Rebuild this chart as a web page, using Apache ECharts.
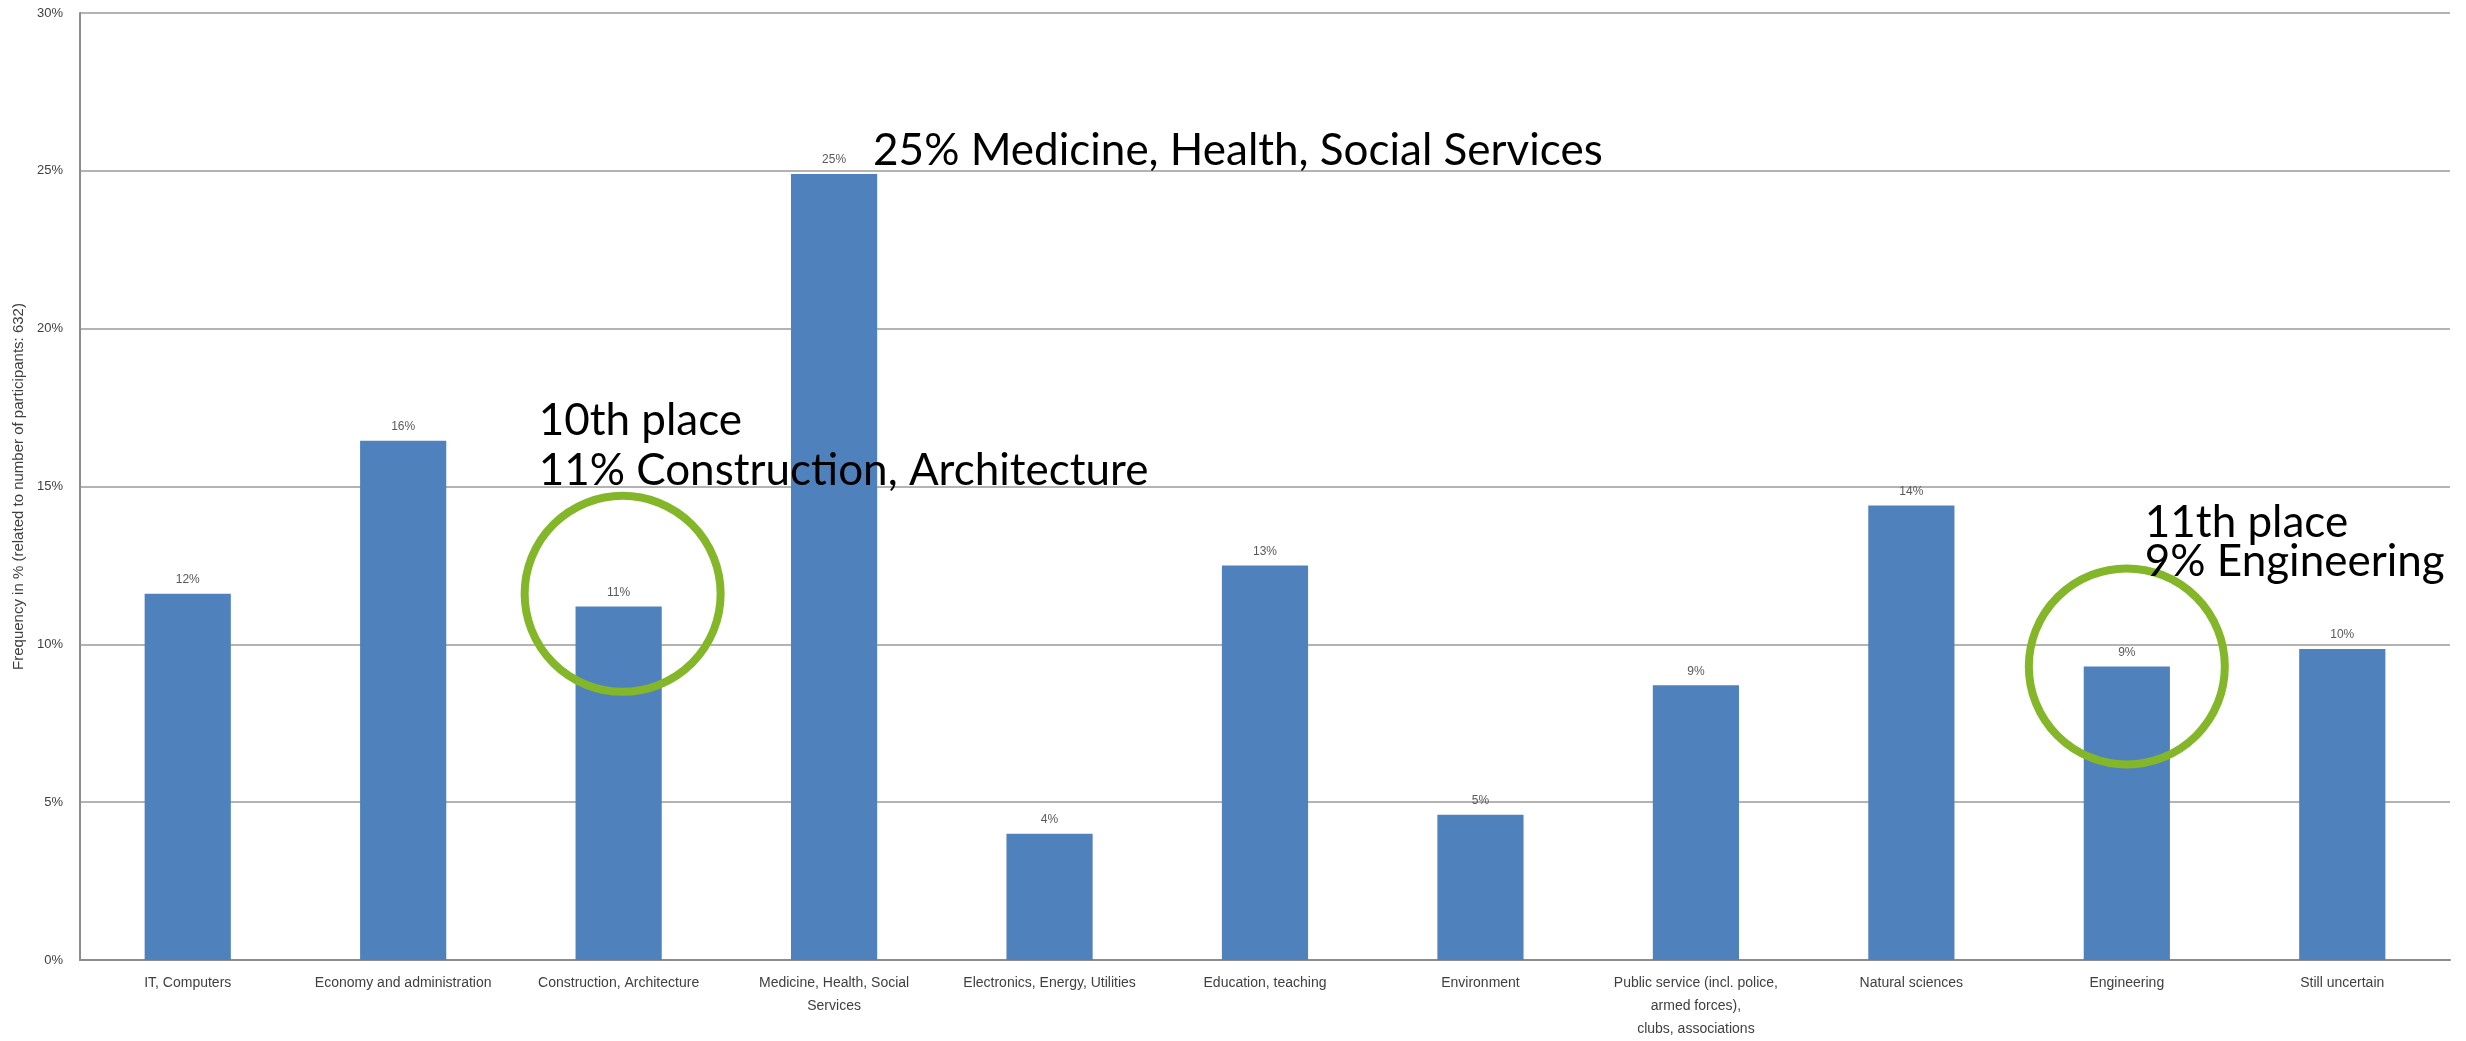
<!DOCTYPE html>
<html><head><meta charset="utf-8">
<script src="https://cdn.jsdelivr.net/npm/echarts@6/dist/echarts.min.js"></script>
<style>html,body{margin:0;padding:0;background:#fff}#c{width:2466px;height:1041px}</style>
</head><body><div id="c"></div>
<script>
var categories = ["IT, Computers","Economy and administration","Construction, Architecture","Medicine, Health, Social\nServices","Electronics, Energy, Utilities","Education, teaching","Environment","Public service (incl. police,\narmed forces),\nclubs, associations","Natural sciences","Engineering","Still uncertain"];
var values = [11.6, 16.45, 11.2, 24.9, 4.0, 12.5, 4.6, 8.7, 14.4, 9.3, 9.85];
var yTicks = [0, 5, 10, 15, 20, 25, 30];
var highlights = [
  {index: 2, center: 11.6, lines: ["10th place", "11% Construction, Architecture"]},
  {index: 9, center: 9.3, lines: ["11th place", "9% Engineering"]}
];
var topNote = {index: 3, text: "25% Medicine, Health, Social Services"};

var chart = echarts.init(document.getElementById('c'));
var small = "'Liberation Sans Narrow','Liberation Sans',sans-serif";
chart.setOption({
  animation: false,
  grid: {left: 80, right: 16, top: 13, bottom: 73},
  xAxis: {
    type: 'category', data: categories,
    axisLine: {lineStyle: {color: '#8c8c8c', width: 2}},
    axisTick: {show: false},
    axisLabel: {fontFamily: small, fontSize: 14, color: '#404040', margin: 12, lineHeight: 23, interval: 0}
  },
  yAxis: {
    type: 'value', min: yTicks[0], max: yTicks[yTicks.length-1], interval: 5,
    name: 'Frequency in % (related to number of participants: 632)',
    nameLocation: 'middle', nameGap: 50, nameRotate: 90,
    nameTextStyle: {fontFamily: small, fontSize: 15, color: '#404040'},
    axisLine: {show: true, lineStyle: {color: '#8c8c8c', width: 2}},
    axisTick: {show: false},
    axisLabel: {fontFamily: small, fontSize: 13, color: '#404040', margin: 17, formatter: '{value}%'},
    splitLine: {lineStyle: {color: '#9a9a9a', width: 1.5}}
  },
  series: [{
    type: 'bar', data: values, barWidth: '40%',
    itemStyle: {color: '#4f81bd'},
    label: {show: true, position: 'top', distance: 8, fontFamily: small, fontSize: 12, color: '#595959',
      formatter: function(p){ return Math.round(p.value) + '%'; }}
  }]
});

function drawNotes(){
  var g = [];
  var font = "44px Lato, 'Noto Sans', sans-serif";
  var dx = [4, 0];
  highlights.forEach(function(h, k){
    var c = chart.convertToPixel({seriesIndex: 0}, [h.index, h.center]);
    g.push({type: 'circle', shape: {cx: c[0] + dx[k], cy: c[1], r: 98}, z: 10,
      style: {fill: 'none', stroke: '#84b62a', lineWidth: 8}});
  });
  function line(txt, x, y){
    g.push({type: 'text', x: x, y: y, z: 11, style: {text: txt, font: font, fill: '#000', verticalAlign: 'middle', align: 'left'}});
  }
  var p2 = chart.convertToPixel({seriesIndex: 0}, [2, 0]);
  line(highlights[0].lines[0], p2[0] - 80, 421);
  line(highlights[0].lines[1], p2[0] - 80, 471);
  var p9 = chart.convertToPixel({seriesIndex: 0}, [9, 0]);
  line(highlights[1].lines[0], p9[0] + 18, 523);
  line(highlights[1].lines[1], p9[0] + 18, 562);
  var p3 = chart.convertToPixel({seriesIndex: 0}, [topNote.index, 0]);
  line(topNote.text, p3[0] + 39, 151);
  chart.setOption({graphic: g});
}
drawNotes();
</script></body></html>
